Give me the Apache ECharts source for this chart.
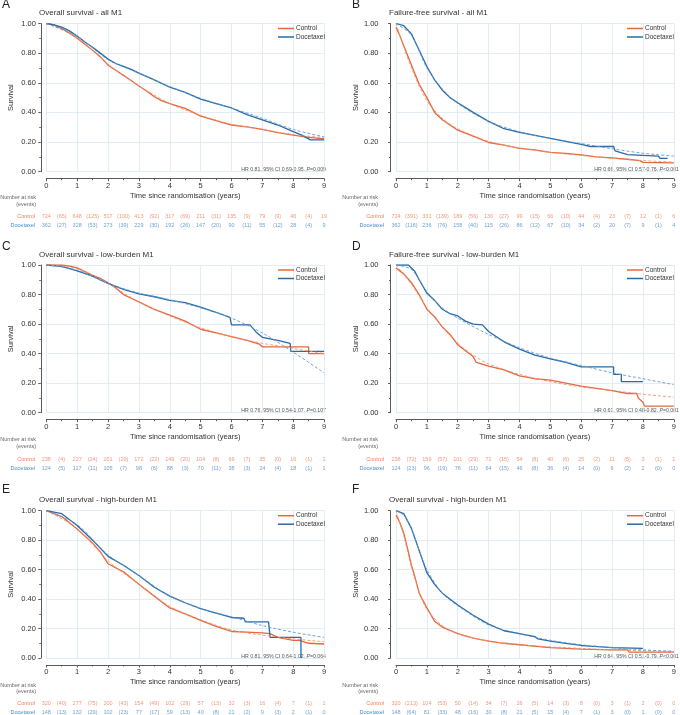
<!DOCTYPE html>
<html><head><meta charset="utf-8">
<script src="https://cdn.jsdelivr.net/npm/echarts@6/dist/echarts.min.js"></script>
<style>html,body{margin:0;padding:0;background:#fff}#c{width:680px;height:715px}</style>
</head><body><div id="c"></div><script>
// ---------- data (time in years, survival proportion) ----------
const timeTicks = [0,1,2,3,4,5,6,7,8,9];
const seriesNames = ['Control','Docetaxel'];

const A_control = [[0,1],[0.25,0.99],[0.5,0.966],[0.75,0.935],[1,0.90],[1.25,0.86],[1.5,0.82],[1.75,0.775],[2,0.72],[2.25,0.685],[2.5,0.65],[2.75,0.615],[3,0.578],[3.25,0.545],[3.5,0.506],[3.75,0.478],[4,0.46],[4.5,0.427],[5,0.375],[5.5,0.344],[6,0.315],[6.5,0.303],[7,0.285],[7.5,0.263],[8,0.247],[8.5,0.231],[9,0.222]];
const A_docetaxel = [[0,1],[0.25,0.99],[0.5,0.975],[0.75,0.95],[1,0.915],[1.25,0.875],[1.5,0.84],[1.75,0.80],[2,0.76],[2.25,0.73],[2.5,0.71],[2.75,0.69],[3,0.665],[3.5,0.62],[4,0.57],[4.5,0.535],[5,0.49],[5.5,0.46],[6,0.43],[6.5,0.385],[7,0.35],[7.5,0.315],[8,0.27],[8.3,0.245],[8.55,0.215],[9,0.215]];
const A_controlFit = [[0,1],[1,0.905],[2,0.725],[3,0.58],[4,0.46],[5,0.38],[6,0.32],[7,0.285],[8,0.25],[9,0.23]];
const A_docetaxelFit = [[0,1],[1,0.915],[2,0.755],[3,0.665],[4,0.575],[5,0.495],[6,0.43],[7,0.36],[8,0.285],[9,0.235]];

const B_control = [[0,0.975],[0.1,0.93],[0.25,0.85],[0.5,0.72],[0.75,0.59],[1,0.50],[1.25,0.40],[1.5,0.35],[1.75,0.315],[2,0.28],[2.5,0.24],[3,0.197],[3.5,0.18],[4,0.158],[4.5,0.147],[5,0.131],[5.5,0.124],[6,0.113],[6.5,0.10],[7,0.093],[7.5,0.084],[7.9,0.075],[8,0.063],[9,0.06]];
const B_docetaxel = [[0,1],[0.25,0.985],[0.5,0.93],[0.75,0.82],[1,0.71],[1.25,0.62],[1.5,0.55],[1.75,0.50],[2,0.465],[2.5,0.40],[3,0.34],[3.5,0.29],[4,0.265],[4.5,0.245],[5,0.225],[5.5,0.205],[6,0.185],[6.3,0.17],[7.05,0.17],[7.1,0.14],[7.5,0.115],[8,0.11],[8.5,0.105],[8.55,0.09],[8.8,0.09]];
const B_controlFit = [[0,1],[0.5,0.70],[1,0.48],[1.5,0.36],[2,0.29],[3,0.205],[4,0.16],[5,0.13],[6,0.11],[7,0.09],[8,0.075],[9,0.065]];
const B_docetaxelFit = [[0,1],[0.5,0.92],[1,0.70],[1.5,0.56],[2,0.46],[3,0.34],[4,0.27],[5,0.225],[6,0.19],[7,0.155],[8,0.125],[9,0.105]];

const C_control = [[0,1],[0.5,1.0],[0.8,0.99],[1,0.98],[1.25,0.955],[1.5,0.93],[1.75,0.91],[2,0.88],[2.25,0.845],[2.5,0.80],[2.75,0.775],[3,0.75],[3.5,0.70],[4,0.66],[4.5,0.62],[5,0.565],[5.5,0.54],[6,0.515],[6.5,0.49],[6.9,0.465],[7,0.445],[8.5,0.445],[8.5,0.40],[9,0.40]];
const C_docetaxel = [[0,1],[0.5,0.99],[1,0.96],[1.5,0.925],[2,0.875],[2.5,0.835],[3,0.805],[3.5,0.785],[4,0.76],[4.5,0.745],[5,0.715],[5.5,0.68],[5.95,0.645],[6,0.595],[6.6,0.595],[6.8,0.545],[7,0.51],[7.5,0.49],[7.9,0.47],[7.92,0.415],[9,0.415]];
const C_controlFit = [[0,1],[1,0.975],[2,0.875],[3,0.75],[4,0.655],[5,0.575],[6,0.515],[7,0.47],[8,0.435],[9,0.40]];
const C_docetaxelFit = [[0,1],[1,0.965],[2,0.875],[3,0.81],[4,0.765],[5,0.71],[6,0.64],[7,0.54],[8,0.41],[9,0.27]];

const D_control = [[0,0.98],[0.25,0.94],[0.5,0.88],[0.75,0.80],[1,0.70],[1.25,0.65],[1.5,0.58],[1.75,0.53],[2,0.46],[2.25,0.42],[2.5,0.38],[2.6,0.34],[3,0.315],[3.5,0.29],[4,0.25],[4.5,0.23],[5,0.22],[5.5,0.20],[6,0.18],[6.5,0.165],[7,0.15],[7.5,0.13],[7.8,0.13],[7.85,0.10],[8,0.07],[8.05,0.045],[9,0.045]];
const D_docetaxel = [[0,1],[0.4,1],[0.6,0.96],[0.75,0.90],[1,0.81],[1.25,0.76],[1.5,0.70],[1.75,0.67],[2,0.655],[2.25,0.62],[2.5,0.60],[2.8,0.595],[3,0.55],[3.5,0.48],[4,0.43],[4.5,0.39],[5,0.365],[5.5,0.34],[6,0.31],[7.05,0.31],[7.05,0.26],[7.3,0.26],[7.3,0.21],[8,0.21]];
const D_controlFit = [[0,1],[0.5,0.87],[1,0.71],[1.5,0.58],[2,0.47],[2.5,0.39],[3,0.33],[4,0.26],[5,0.21],[6,0.175],[7,0.15],[8,0.125],[9,0.105]];
const D_docetaxelFit = [[0,1],[0.5,0.97],[1,0.82],[1.5,0.71],[2,0.64],[3,0.53],[4,0.44],[5,0.37],[6,0.32],[7,0.27],[8,0.23],[9,0.19]];

const E_control = [[0,1],[0.5,0.96],[1,0.875],[1.5,0.78],[1.75,0.72],[2,0.64],[2.5,0.585],[3,0.50],[3.5,0.42],[4,0.34],[4.5,0.30],[5,0.255],[5.5,0.215],[6,0.18],[6.5,0.175],[7,0.17],[7.25,0.165],[7.5,0.14],[8,0.12],[8.2,0.12],[8.5,0.10],[9,0.095]];
const E_docetaxel = [[0,1],[0.5,0.98],[1,0.90],[1.5,0.80],[2,0.69],[2.5,0.63],[3,0.56],[3.5,0.48],[4,0.42],[4.5,0.375],[5,0.335],[5.5,0.305],[6,0.275],[6.4,0.27],[6.45,0.245],[7.2,0.245],[7.25,0.14],[8.25,0.14],[8.25,0.0]];
const E_controlFit = [[0,1],[1,0.88],[2,0.66],[3,0.50],[4,0.35],[5,0.26],[6,0.19],[7,0.155],[8,0.13],[9,0.11]];
const E_docetaxelFit = [[0,1],[1,0.905],[2,0.70],[3,0.56],[4,0.42],[5,0.335],[6,0.28],[7,0.22],[8,0.175],[9,0.14]];

const F_control = [[0,0.97],[0.1,0.93],[0.25,0.85],[0.4,0.72],[0.5,0.63],[0.6,0.56],[0.75,0.44],[1,0.34],[1.25,0.25],[1.5,0.21],[2,0.165],[2.5,0.135],[3,0.115],[3.5,0.10],[4,0.09],[5,0.07],[6,0.06],[7,0.055],[7.5,0.055],[7.55,0.04],[9,0.04]];
const F_docetaxel = [[0,1],[0.25,0.98],[0.5,0.88],[0.75,0.73],[1,0.58],[1.25,0.50],[1.5,0.44],[2,0.36],[2.5,0.29],[3,0.23],[3.5,0.185],[4,0.165],[4.5,0.145],[4.6,0.13],[5,0.115],[5.5,0.10],[6,0.085],[6.3,0.08],[6.35,0.07],[7,0.07],[8,0.065]];
const F_controlFit = [[0,1],[0.25,0.83],[0.5,0.62],[0.75,0.45],[1,0.33],[1.5,0.22],[2,0.165],[3,0.115],[4,0.09],[5,0.075],[6,0.065],[7,0.055],[8,0.05],[9,0.045]];
const F_docetaxelFit = [[0,1],[0.25,0.97],[0.5,0.88],[0.75,0.73],[1,0.60],[1.5,0.44],[2,0.355],[3,0.225],[4,0.165],[5,0.12],[6,0.09],[7,0.07],[8,0.055],[9,0.045]];

// number at risk (at years 0..9) and events (in each year)
const A_riskControl = [724,648,517,413,317,211,135,79,46,19];
const A_eventsControl = [65,125,100,92,69,31,9,9,4];
const A_riskDocetaxel = [362,328,273,229,192,147,90,55,28,9];
const A_eventsDocetaxel = [27,53,39,30,26,20,11,12,4];
const B_riskControl = [724,331,189,130,99,66,44,23,12,6];
const B_eventsControl = [391,139,56,27,15,10,4,7,1];
const B_riskDocetaxel = [362,236,158,115,86,67,34,20,9,4];
const B_eventsDocetaxel = [116,76,40,26,12,10,2,7,1];
const C_riskControl = [238,227,201,172,149,104,69,35,16,1];
const C_eventsControl = [4,24,29,22,20,8,7,0,1];
const C_riskDocetaxel = [124,117,105,98,88,70,38,24,18,1];
const C_eventsDocetaxel = [5,11,7,6,3,11,3,4,1];
const D_riskControl = [238,159,101,71,54,40,25,11,3,1];
const D_eventsControl = [72,57,29,15,8,6,2,5,1];
const D_riskDocetaxel = [124,96,76,64,46,36,14,6,2,0];
const D_eventsDocetaxel = [23,19,11,15,8,4,0,2,0];
const E_riskControl = [320,277,200,154,102,57,32,16,7,1];
const E_eventsControl = [40,75,43,49,29,13,3,4,1];
const E_riskDocetaxel = [148,132,102,77,59,40,21,9,2,0];
const E_eventsDocetaxel = [13,29,23,17,13,8,2,3,1];
const F_riskControl = [320,104,50,34,26,14,8,3,2,0];
const F_eventsControl = [213,53,14,7,5,3,0,1,0];
const F_riskDocetaxel = [148,81,48,30,21,15,7,3,1,0];
const F_eventsDocetaxel = [64,33,16,8,5,4,1,0,0];

const panelLetters = ['A','B','C','D','E','F'];
const panelTitles = ['Overall survival - all M1','Failure-free survival - all M1','Overall survival - low-burden M1','Failure-free survival - low-burden M1','Overall survival - high-burden M1','Overall survival - high-burden M1'];
const hrTexts = ['HR 0.81, 95% CI 0.69-0.95, {i|P}=0.009','HR 0.66, 95% CI 0.57-0.76, {i|P}<0.001','HR 0.76, 95% CI 0.54-1.07, {i|P}=0.107','HR 0.63, 95% CI 0.48-0.82, {i|P}=0.001','HR 0.81, 95% CI 0.64-1.02, {i|P}=0.064','HR 0.64, 95% CI 0.51-0.79, {i|P}<0.001'];

const curves = [
  [A_control, A_docetaxel, A_controlFit, A_docetaxelFit],
  [B_control, B_docetaxel, B_controlFit, B_docetaxelFit],
  [C_control, C_docetaxel, C_controlFit, C_docetaxelFit],
  [D_control, D_docetaxel, D_controlFit, D_docetaxelFit],
  [E_control, E_docetaxel, E_controlFit, E_docetaxelFit],
  [F_control, F_docetaxel, F_controlFit, F_docetaxelFit]
];
const tables = [
  [A_riskControl, A_eventsControl, A_riskDocetaxel, A_eventsDocetaxel],
  [B_riskControl, B_eventsControl, B_riskDocetaxel, B_eventsDocetaxel],
  [C_riskControl, C_eventsControl, C_riskDocetaxel, C_eventsDocetaxel],
  [D_riskControl, D_eventsControl, D_riskDocetaxel, D_eventsDocetaxel],
  [E_riskControl, E_eventsControl, E_riskDocetaxel, E_eventsDocetaxel],
  [F_riskControl, F_eventsControl, F_riskDocetaxel, F_eventsDocetaxel]
];

// ---------- styling / layout ----------
const FONT = '"Liberation Sans", Arial, Helvetica, sans-serif';
const ORANGE = '#e4683f', BLUE = '#2a6aa6';
const ORANGE_FIT = '#f0936e', BLUE_FIT = '#5b9bd4';
const ORANGE_TXT = '#ee7f5a', BLUE_TXT = '#4a8bc7';
const GRIDC = '#d8e8f3', AXISC = '#5a5a5a', TXT = '#333';

const colLeft = [46.3, 396], plotW = 277.8;
const rowTop = [23.5, 265, 510.7], plotH = [148.2, 147.7, 147.3];
const riskY = [216, 459.3, 703.3];
const narY = [197, 439, 685], evY = [204, 446, 691.5];
const titleY = [13, 255, 500], letterY = [5, 247, 490];
const titleX = [39, 389], letterX = [2, 352];
const legendX = [278, 627];
const hrRight = [326, 679];
const narRight = [36, 378];
const yLabelMargin = [5, 12];
const tableLabelMargin = [11.3, 12];

const grid = [], xAxis = [], yAxis = [], series = [], legend = [], graphic = [];

function mix(riskArr, evArr) {
  const pts = [], txt = [];
  for (let k = 0; k < riskArr.length; k++) {
    pts.push(timeTicks[k]); txt.push(String(riskArr[k]));
    if (k < evArr.length) { pts.push(timeTicks[k] + 0.5); txt.push('(' + evArr[k] + ')'); }
  }
  return {pts, txt};
}

for (let i = 0; i < 6; i++) {
  const r = Math.floor(i / 2), c = i % 2;
  const L = colLeft[c];
  // plot grid
  grid.push({left: L, top: rowTop[r], width: plotW, height: plotH[r], outerBoundsMode: 'none', containLabel: false});
  // table grid
  grid.push({left: L, top: riskY[r] - 4.5, width: plotW, height: 18, outerBoundsMode: 'none', containLabel: false});

  xAxis.push({
    gridIndex: 2 * i, type: 'value', min: 0, max: 9, interval: 1, offset: 7,
    axisLine: {show: true, onZero: false, lineStyle: {color: AXISC, width: 1}},
    axisTick: {show: true, length: 2.5, lineStyle: {color: AXISC}},
    minorTick: {show: true, splitNumber: 2, length: 1.5, lineStyle: {color: AXISC}},
    axisLabel: {fontSize: 7.5, color: TXT, margin: 3, fontFamily: FONT},
    splitLine: {show: true, lineStyle: {color: GRIDC, width: 0.8}},
    minorSplitLine: {show: false},
    name: 'Time since randomisation (years)', nameLocation: 'middle', nameGap: 13,
    nameTextStyle: {fontSize: 7.5, color: TXT, fontFamily: FONT}
  });
  yAxis.push({
    gridIndex: 2 * i, type: 'value', min: 0, max: 1, interval: 0.2, offset: 5.5,
    axisLine: {show: true, onZero: false, lineStyle: {color: AXISC, width: 1}},
    axisTick: {show: true, length: 2.5, lineStyle: {color: AXISC}},
    minorTick: {show: true, splitNumber: 2, length: 1.5, lineStyle: {color: AXISC}},
    axisLabel: {formatter: v => v.toFixed(2), fontSize: 7.5, color: TXT, margin: yLabelMargin[c], fontFamily: FONT},
    splitLine: {show: true, lineStyle: {color: GRIDC, width: 0.8}},
    name: 'Survival', nameLocation: 'middle', nameGap: 26, nameRotate: 90,
    nameTextStyle: {fontSize: 7.5, color: TXT, fontFamily: FONT}
  });
  xAxis.push({gridIndex: 2 * i + 1, type: 'value', min: 0, max: 9, show: false});
  yAxis.push({
    gridIndex: 2 * i + 1, type: 'category', data: seriesNames, inverse: true,
    axisLine: {show: false}, axisTick: {show: false}, splitLine: {show: false},
    axisLabel: {fontSize: 5.5, fontFamily: FONT, margin: tableLabelMargin[c],
      color: (v) => v === 'Control' ? ORANGE_TXT : BLUE_TXT}
  });

  const [kc, kd, fc, fd] = curves[i];
  series.push({type: 'line', name: 'Control', xAxisIndex: 2 * i, yAxisIndex: 2 * i, data: kc, showSymbol: false, symbol: 'none',
    lineStyle: {color: ORANGE, width: 1.3}, itemStyle: {color: ORANGE}, z: 3, animation: false});
  series.push({type: 'line', name: 'Docetaxel', xAxisIndex: 2 * i, yAxisIndex: 2 * i, data: kd, showSymbol: false, symbol: 'none',
    lineStyle: {color: BLUE, width: 1.3}, itemStyle: {color: BLUE}, z: 4, animation: false});
  series.push({type: 'line', name: 'Control fit', xAxisIndex: 2 * i, yAxisIndex: 2 * i, data: fc, showSymbol: false, symbol: 'none', smooth: 0.3,
    lineStyle: {color: ORANGE_FIT, width: 0.9, type: [3, 2]}, z: 5, animation: false});
  series.push({type: 'line', name: 'Docetaxel fit', xAxisIndex: 2 * i, yAxisIndex: 2 * i, data: fd, showSymbol: false, symbol: 'none', smooth: 0.3,
    lineStyle: {color: BLUE_FIT, width: 0.9, type: [3, 2]}, z: 5, animation: false});

  const [rc, ec, rd, ed] = tables[i];
  const mc = mix(rc, ec), md = mix(rd, ed);
  series.push({type: 'scatter', name: 'risk-c', xAxisIndex: 2 * i + 1, yAxisIndex: 2 * i + 1, symbolSize: 1,
    itemStyle: {color: 'rgba(0,0,0,0)'}, data: mc.pts.map(t => [t, 'Control']), animation: false, silent: true,
    label: {show: true, position: 'inside', fontSize: 5.5, fontFamily: FONT, color: ORANGE_TXT, formatter: p => mc.txt[p.dataIndex]}});
  series.push({type: 'scatter', name: 'risk-d', xAxisIndex: 2 * i + 1, yAxisIndex: 2 * i + 1, symbolSize: 1,
    itemStyle: {color: 'rgba(0,0,0,0)'}, data: md.pts.map(t => [t, 'Docetaxel']), animation: false, silent: true,
    label: {show: true, position: 'inside', fontSize: 5.5, fontFamily: FONT, color: BLUE_TXT, formatter: p => md.txt[p.dataIndex]}});

  legend.push({left: legendX[c], top: rowTop[r] + 1.5, orient: 'vertical', icon: 'rect', itemWidth: 16, itemHeight: 1.5,
    itemGap: 1.5, data: seriesNames, selectedMode: false, padding: 0,
    textStyle: {fontSize: 6.5, color: TXT, fontFamily: FONT, padding: [0, 0, 0, -3]}});

  graphic.push({type: 'text', x: letterX[c], y: letterY[r], style: {text: panelLetters[i], fill: '#222', font: '12px ' + FONT, textVerticalAlign: 'middle'}});
  graphic.push({type: 'text', x: titleX[c], y: titleY[r], style: {text: panelTitles[i], fill: TXT, font: '8px ' + FONT, textVerticalAlign: 'middle'}});
  graphic.push({type: 'text', x: hrRight[c], y: rowTop[r] + plotH[r] - 1.8, style: {text: hrTexts[i], fill: '#555', font: '5.2px ' + FONT,
    textAlign: 'right', textVerticalAlign: 'middle', rich: {i: {fontStyle: 'italic', fontSize: 5.2, fontFamily: FONT, fill: '#555'}}}});
  graphic.push({type: 'text', x: narRight[c], y: narY[r], style: {text: 'Number at risk', fill: '#666', font: '5.5px ' + FONT, textAlign: 'right', textVerticalAlign: 'middle'}});
  graphic.push({type: 'text', x: narRight[c], y: evY[r], style: {text: '(events)', fill: '#666', font: '5.5px ' + FONT, textAlign: 'right', textVerticalAlign: 'middle'}});
}

const chart = echarts.init(document.getElementById('c'), null, {renderer: 'canvas', width: 680, height: 715});
chart.setOption({
  backgroundColor: '#ffffff', animation: false,
  textStyle: {fontFamily: FONT},
  grid, xAxis, yAxis, series, legend, graphic
});
</script></body></html>
